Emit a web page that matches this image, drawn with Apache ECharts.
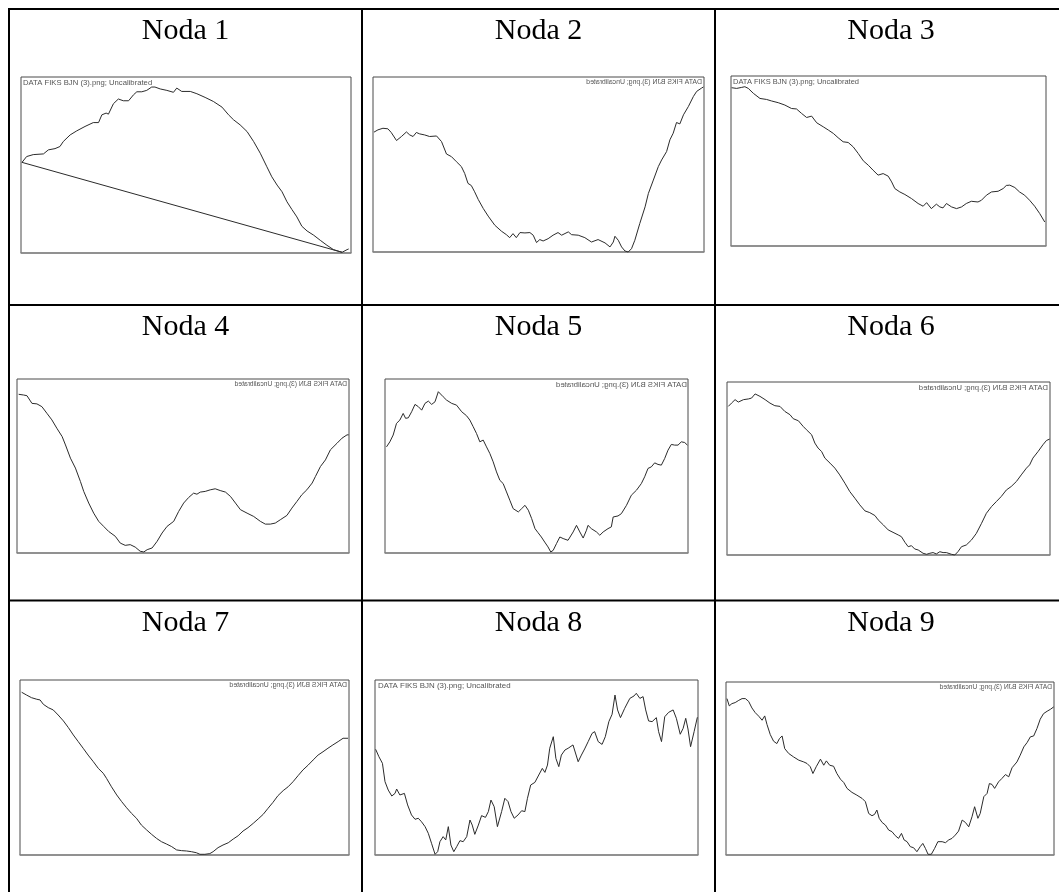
<!DOCTYPE html>
<html><head><meta charset="utf-8">
<script src="https://cdn.jsdelivr.net/npm/echarts@6/dist/echarts.min.js"></script>
<style>html,body{margin:0;padding:0;background:#fff}#c{width:1059px;height:892px}</style>
</head><body><div id="c"></div>
<script>
// ---------- data (x = % of plot width, y = % of plot height) ----------
const titles = ['Noda 1','Noda 2','Noda 3','Noda 4','Noda 5','Noda 6','Noda 7','Noda 8','Noda 9'];
const labelText = 'DATA FIKS BJN (3).png; Uncalibrated';

const noda1 = [[0.3,51.5],[1.7,54.8],[3.7,55.9],[6.8,56.3],[8.3,58.6],[10.3,59.3],[11.8,60.5],[12.8,63.3],[14.9,67.1],[16.9,69.4],[19.4,71.9],[21.9,74.1],[23.5,74.1],[24.5,78.5],[25.8,79.5],[26.5,78.9],[28.0,84.8],[29.5,87.5],[31.0,86.5],[32.6,86.5],[34.1,89.9],[35.1,91.6],[36.6,91.6],[38.1,92.4],[39.6,94.3],[40.6,94.3],[42.2,93.2],[44.2,92.4],[46.2,91.3],[47.2,93.7],[48.7,91.8],[51.3,91.8],[53.3,90.5],[55.8,88.4],[58.3,86.1],[60.9,82.9],[62.9,78.5],[64.4,75.7],[66.4,72.8],[68.5,69.0],[70.5,63.3],[72.5,56.7],[74.5,49.0],[76.0,43.3],[77.6,38.6],[79.1,34.8],[80.6,29.1],[82.1,24.7],[83.6,20.5],[85.1,15.2],[86.7,12.5],[88.7,10.1],[90.7,7.2],[92.7,4.4],[94.7,1.9],[97.3,0.4],[98.8,1.9],[99.3,2.3]];
const noda1Chord = [[0.3,51.5],[97.3,0.4]];

const noda2 = [[0.3,68.5],[1.5,69.8],[3.0,70.7],[4.5,70.4],[5.5,68.3],[7.1,63.7],[8.6,66.0],[10.1,68.6],[11.1,66.9],[12.1,66.0],[13.1,68.3],[14.1,67.5],[15.6,66.9],[17.1,66.0],[19.2,66.3],[20.7,63.1],[22.2,56.0],[23.7,54.5],[25.2,51.6],[26.7,48.8],[27.7,44.9],[28.7,39.2],[29.7,38.0],[30.7,34.4],[31.8,30.0],[33.3,24.9],[34.8,20.5],[36.8,15.3],[38.8,11.9],[40.3,9.9],[41.3,8.2],[42.3,10.5],[43.3,8.2],[44.4,11.1],[45.9,10.9],[47.4,11.1],[48.4,9.6],[49.4,5.4],[50.4,7.1],[51.4,6.3],[52.9,7.6],[54.4,9.6],[55.9,11.1],[57.0,9.6],[59.0,11.5],[60.0,9.9],[62.0,9.6],[64.0,8.2],[66.0,5.7],[68.0,7.1],[70.1,5.2],[71.6,2.9],[72.6,5.7],[73.1,9.0],[74.1,6.7],[75.1,2.9],[76.1,0.6],[77.1,0.0],[78.1,1.9],[79.1,6.7],[80.6,16.3],[82.2,25.8],[83.2,33.5],[84.7,41.1],[86.2,48.8],[87.2,52.6],[88.7,57.4],[89.7,64.1],[90.7,67.9],[91.7,74.0],[92.7,73.2],[93.8,78.4],[95.3,83.2],[96.8,88.9],[97.8,91.8],[99.3,93.7],[99.8,94.3]];

const noda3 = [[0.2,93.1],[1.8,92.7],[3.4,93.3],[4.4,93.7],[5.5,92.7],[7.1,89.8],[9.2,86.8],[11.3,86.2],[12.9,85.3],[15.0,84.3],[17.1,82.9],[19.2,80.9],[20.8,80.6],[22.4,78.0],[24.0,75.6],[25.6,76.4],[27.2,72.5],[29.3,70.1],[30.9,68.2],[32.5,66.2],[34.0,63.7],[35.6,61.3],[37.2,60.9],[38.8,58.3],[40.4,54.4],[42.0,50.1],[43.6,47.5],[45.1,44.6],[46.7,41.7],[48.3,42.6],[49.9,41.1],[51.0,37.7],[52.0,33.8],[53.6,31.8],[55.2,30.3],[57.3,27.9],[59.4,25.0],[61.0,23.4],[62.1,25.5],[63.6,22.0],[65.2,24.6],[66.3,23.0],[67.3,22.4],[68.4,25.0],[70.0,23.0],[71.6,22.0],[73.2,23.0],[74.7,25.0],[76.3,26.3],[78.4,25.9],[79.5,26.9],[81.1,29.9],[82.7,31.8],[84.8,32.2],[86.4,33.8],[87.4,35.6],[88.5,35.8],[90.1,34.4],[91.6,31.8],[93.2,29.9],[94.8,26.9],[96.4,23.4],[98.0,19.1],[99.6,14.1]];

const noda4 = [[0.5,91.2],[2.0,90.8],[3.0,90.4],[4.5,86.0],[6.0,85.7],[7.5,84.1],[9.0,80.3],[10.5,76.5],[12.0,71.7],[13.6,66.9],[14.6,62.1],[16.1,54.5],[17.6,48.8],[19.1,41.1],[20.1,35.4],[21.6,28.7],[23.1,22.9],[24.6,18.2],[26.1,15.3],[27.6,12.4],[29.6,9.6],[31.1,5.7],[32.6,4.4],[34.1,4.8],[35.6,3.4],[37.1,1.0],[38.2,0.6],[39.2,1.9],[40.7,2.9],[42.2,6.7],[43.7,11.5],[45.2,15.3],[47.2,18.2],[48.7,23.9],[50.2,28.7],[51.7,31.9],[53.2,34.4],[54.2,33.8],[55.2,35.0],[56.7,35.4],[58.2,36.3],[59.7,36.9],[61.2,35.9],[62.8,35.0],[64.3,32.5],[65.8,28.7],[67.3,24.9],[69.3,22.9],[71.3,21.0],[73.3,18.2],[74.8,16.6],[76.3,16.6],[77.8,17.2],[79.3,19.1],[81.3,21.6],[82.8,25.8],[84.3,29.6],[85.8,33.5],[87.3,36.3],[88.9,40.2],[89.9,44.0],[91.4,49.7],[92.9,53.5],[94.4,59.3],[96.4,63.1],[97.9,66.0],[99.4,67.9],[99.9,67.9]];

const noda5 = [[0.5,61.0],[1.6,63.9],[2.7,67.8],[3.8,74.5],[4.9,76.4],[6.0,80.2],[6.8,77.4],[7.7,77.7],[8.8,81.2],[9.9,85.4],[11.0,84.1],[12.1,82.1],[13.2,86.0],[14.3,87.3],[15.4,85.4],[16.5,86.9],[17.6,92.7],[18.1,93.7],[19.2,89.8],[20.3,87.9],[22.0,86.0],[23.6,85.0],[25.3,81.2],[26.9,78.9],[28.0,76.4],[29.1,72.6],[30.2,68.7],[31.3,63.9],[32.4,64.9],[33.5,61.0],[34.6,57.2],[35.7,52.4],[36.8,46.6],[37.9,41.8],[39.0,39.9],[40.1,35.1],[41.2,30.3],[42.3,25.5],[44.0,23.6],[45.1,25.5],[46.2,27.4],[47.3,24.6],[48.4,19.8],[49.5,14.0],[50.5,11.7],[51.6,9.2],[52.7,6.3],[53.8,3.5],[54.7,0.6],[55.5,1.5],[56.6,5.4],[57.7,9.2],[58.8,8.3],[60.4,7.3],[62.1,12.1],[63.2,15.9],[64.3,12.1],[65.4,8.6],[66.5,13.1],[67.0,15.9],[68.1,14.0],[69.8,12.1],[70.9,10.2],[72.0,12.1],[73.6,14.0],[74.7,15.0],[75.3,20.7],[76.9,21.3],[78.0,22.6],[79.7,27.4],[81.3,33.2],[83.0,36.1],[84.6,39.9],[85.7,43.8],[86.8,48.6],[87.9,49.5],[89.0,51.8],[90.1,50.9],[91.2,50.5],[92.3,54.3],[93.4,59.1],[94.5,62.4],[95.6,62.0],[96.7,62.0],[97.8,63.9],[98.9,63.5],[99.8,62.0]];

const noda6 = [[0.4,85.9],[1.4,87.8],[2.5,89.8],[3.5,88.4],[5.1,89.8],[6.6,90.2],[7.6,90.7],[8.7,93.1],[9.2,93.2],[10.2,91.7],[11.8,89.8],[13.3,87.8],[14.8,86.3],[16.4,85.9],[17.9,83.0],[19.5,81.1],[20.5,78.8],[22.1,77.6],[23.6,74.3],[24.6,72.4],[26.2,69.5],[27.2,64.7],[28.2,61.8],[29.3,59.8],[30.3,56.0],[31.9,53.1],[33.4,50.2],[34.9,46.3],[36.5,41.5],[38.0,36.7],[39.6,32.8],[41.1,29.0],[42.7,25.5],[44.2,24.5],[45.8,22.8],[46.8,20.3],[48.4,17.4],[49.9,14.5],[51.4,13.1],[53.0,11.6],[54.0,10.6],[55.1,7.3],[56.1,4.8],[57.1,5.4],[58.1,3.5],[59.2,2.9],[60.7,1.0],[61.8,0.4],[62.8,1.0],[63.8,1.4],[64.8,0.6],[65.9,1.9],[66.9,1.4],[67.9,1.4],[69.5,0.4],[70.5,0.0],[71.5,1.9],[72.6,4.8],[74.1,5.8],[75.7,8.7],[77.2,12.5],[78.8,18.3],[80.3,24.1],[81.9,28.0],[83.4,30.9],[84.9,33.8],[86.5,37.6],[88.0,39.6],[89.6,42.5],[91.1,46.3],[92.7,50.2],[93.7,52.1],[94.7,56.0],[96.3,59.8],[97.8,63.7],[98.9,66.2],[99.9,67.0]];

const noda7 = [[0.5,93.0],[2.0,91.4],[3.5,89.9],[5.1,89.0],[6.1,88.6],[7.1,86.1],[8.6,84.2],[10.1,82.9],[11.6,80.0],[13.2,76.6],[14.7,72.8],[16.2,68.6],[17.7,64.8],[19.2,61.0],[20.7,57.1],[22.3,53.3],[23.8,49.5],[25.3,46.7],[26.3,43.8],[27.8,39.0],[29.4,34.3],[30.9,30.5],[32.4,27.0],[33.9,23.8],[35.4,21.0],[36.9,17.1],[38.5,14.3],[40.0,11.8],[41.5,9.5],[43.0,7.6],[44.5,6.3],[46.1,4.8],[47.6,2.9],[49.1,2.5],[50.6,2.3],[52.1,1.9],[53.6,1.3],[54.7,0.4],[56.2,0.4],[57.7,0.8],[58.7,1.9],[60.2,4.2],[61.7,5.7],[63.3,7.0],[64.8,9.1],[66.3,11.0],[67.8,13.7],[69.3,15.6],[70.9,18.1],[72.4,20.6],[73.9,23.2],[75.4,26.7],[76.9,30.1],[78.4,33.9],[80.0,36.8],[81.5,39.0],[83.0,41.9],[84.5,45.3],[86.0,48.6],[87.6,51.4],[89.1,54.3],[90.6,57.1],[92.1,59.0],[93.6,61.0],[95.1,62.9],[96.7,64.8],[98.2,66.7],[99.7,66.7]];

const noda8 = [[0.2,60.4],[1.2,56.2],[2.3,52.4],[3.1,41.9],[4.1,37.1],[5.2,33.7],[6.2,35.2],[6.7,37.7],[7.7,34.3],[9.1,35.2],[10.1,28.6],[11.3,22.9],[12.4,20.4],[13.4,21.0],[14.4,19.0],[15.5,16.2],[16.5,12.4],[17.5,6.7],[18.6,0.4],[19.4,1.9],[20.1,7.6],[21.1,10.5],[21.9,8.6],[22.7,16.2],[23.5,5.7],[24.4,1.9],[25.3,4.8],[26.3,8.2],[27.3,7.6],[28.4,10.5],[29.4,20.0],[30.1,17.1],[30.9,11.8],[32.0,17.1],[33.0,22.5],[34.2,21.5],[35.1,24.8],[35.9,31.4],[36.9,27.6],[37.9,16.2],[39.2,24.8],[40.2,32.4],[41.2,30.5],[42.1,24.8],[43.1,21.0],[44.3,22.9],[45.4,25.3],[46.4,24.8],[47.2,32.4],[48.2,40.0],[49.5,41.5],[50.7,45.7],[51.8,49.5],[52.6,47.2],[53.4,51.4],[54.1,61.0],[55.2,67.6],[56.0,55.2],[56.9,50.5],[57.7,57.1],[58.8,60.0],[59.8,61.0],[61.3,62.9],[62.9,53.3],[63.9,57.1],[64.9,60.6],[66.0,64.8],[67.2,69.5],[68.0,70.5],[69.1,64.8],[70.3,63.2],[71.3,67.6],[72.4,76.2],[73.4,80.4],[74.3,91.4],[75.1,82.9],[76.0,78.5],[77.3,83.8],[78.9,89.5],[80.2,90.9],[80.9,92.4],[82.0,89.5],[83.0,90.5],[83.8,82.9],[84.7,76.6],[85.8,76.2],[87.1,78.5],[87.8,70.5],[88.7,64.8],[89.7,79.0],[90.9,81.5],[92.3,82.9],[93.3,78.1],[94.5,69.0],[95.4,72.4],[96.2,78.1],[96.9,72.0],[97.7,61.9],[98.8,70.5],[99.8,78.7]];

const noda9 = [[0.3,90.4],[1.0,86.2],[1.8,87.5],[2.8,88.1],[3.9,89.4],[4.9,90.4],[5.9,90.4],[6.9,88.8],[7.9,85.0],[8.9,82.3],[10.0,80.2],[11.0,77.9],[11.8,80.4],[12.5,75.4],[13.5,69.6],[14.5,65.8],[15.5,64.4],[16.3,67.3],[17.1,68.8],[17.9,61.5],[19.1,58.7],[20.6,56.7],[22.2,54.8],[23.7,53.8],[24.7,52.9],[25.7,51.0],[26.5,47.1],[27.5,51.0],[28.8,55.4],[29.8,51.9],[30.6,54.4],[31.6,51.9],[32.8,51.3],[33.8,47.1],[34.9,43.8],[35.9,41.9],[36.9,38.5],[38.4,36.2],[39.9,34.6],[41.5,32.7],[42.5,30.8],[43.5,24.0],[44.5,22.7],[45.3,23.5],[46.0,26.0],[46.7,21.2],[47.6,18.8],[48.6,17.3],[49.6,14.4],[50.6,13.5],[51.6,11.2],[52.6,9.6],[53.5,12.5],[54.3,8.7],[55.2,7.7],[56.2,4.8],[57.2,4.2],[58.2,1.9],[59.2,4.8],[60.0,6.7],[60.8,3.8],[61.6,0.4],[62.6,0.4],[63.6,3.8],[64.6,7.7],[65.9,7.7],[66.9,7.1],[67.9,8.7],[68.9,9.6],[69.9,11.5],[70.9,13.8],[72.0,20.2],[73.0,18.8],[74.0,16.3],[75.0,22.1],[75.8,27.9],[76.8,21.2],[77.5,24.0],[78.6,33.7],[79.6,35.6],[80.3,41.3],[81.1,40.8],[81.9,38.5],[83.1,42.3],[84.1,44.2],[85.2,46.5],[86.2,45.2],[87.2,50.4],[88.7,53.8],[89.7,57.7],[90.8,62.5],[91.8,65.0],[92.8,68.3],[93.8,68.8],[94.8,73.1],[95.8,78.5],[96.8,81.7],[97.9,83.1],[98.9,84.2],[99.9,85.6]];

const nodaData = [noda1, noda2, noda3, noda4, noda5, noda6, noda7, noda8, noda9];

// ---------- layout ----------
const frames = [
  {left:21,  top:77,  width:330, height:176},
  {left:373, top:77,  width:331, height:175},
  {left:731, top:76,  width:315, height:170},
  {left:17,  top:379, width:332, height:174},
  {left:385, top:379, width:303, height:174},
  {left:727, top:382, width:323, height:173},
  {left:20,  top:680, width:329, height:175},
  {left:375, top:680, width:323, height:175},
  {left:726, top:682, width:328, height:173}
];
const labels = [
  {mirror:false, x:23,   y:79,  fs:7.7},
  {mirror:true,  x:702,  y:79,  fs:6.9},
  {mirror:false, x:733,  y:78,  fs:7.5},
  {mirror:true,  x:347,  y:381, fs:6.7},
  {mirror:true,  x:687,  y:381, fs:7.8},
  {mirror:true,  x:1048, y:384, fs:7.7},
  {mirror:true,  x:347,  y:682, fs:7.0},
  {mirror:false, x:378,  y:682, fs:7.9},
  {mirror:true,  x:1052, y:684, fs:6.7}
];
const titlePos = [[185.5,30.7],[538.5,30.7],[891,30.7],[185.5,326.7],[538.5,326.7],[891,326.7],[185.5,623.5],[538.5,623.5],[891,623.5]];

const chart = echarts.init(document.getElementById('c'), null, {renderer:'canvas'});

const grid = [], xAxis = [], yAxis = [], series = [];
frames.forEach((f, i) => {
  grid.push({left:f.left, top:f.top, width:f.width, height:f.height, show:true, borderColor:'#4a4a4a', borderWidth:1, backgroundColor:'#fff', containLabel:false});
  xAxis.push({type:'value', gridIndex:i, min:0, max:100, show:true,
    axisLine:{show:true, onZero:false, lineStyle:{color:'#8a8a8a', width:1.5}},
    axisTick:{show:false}, axisLabel:{show:false}, splitLine:{show:false}});
  yAxis.push({type:'value', gridIndex:i, min:0, max:100, show:false, splitLine:{show:false}});
  series.push({type:'line', xAxisIndex:i, yAxisIndex:i, data:nodaData[i], showSymbol:false, symbol:'none',
    lineStyle:{color:'#2b2b2b', width:1}, silent:true, animation:false, clip:false, z:3});
});
series.push({type:'line', xAxisIndex:0, yAxisIndex:0, data:noda1Chord, showSymbol:false, symbol:'none',
  lineStyle:{color:'#2b2b2b', width:1}, silent:true, animation:false, clip:false, z:3});

const graphics = [];
const B = 2;
// table rules
[[8,9,1059,9],[8,305,1059,305],[8,600.5,1059,600.5]].forEach(l => graphics.push({type:'line', shape:{x1:l[0],y1:l[1],x2:l[2],y2:l[3]}, style:{stroke:'#000', lineWidth:B}, z:10}));
[[9,8,9,892],[362,8,362,892],[715,8,715,892]].forEach(l => graphics.push({type:'line', shape:{x1:l[0],y1:l[1],x2:l[2],y2:l[3]}, style:{stroke:'#000', lineWidth:B}, z:10}));
// titles
titles.forEach((t, i) => graphics.push({type:'text', x:titlePos[i][0], y:titlePos[i][1], z:10,
  style:{text:t, fill:'#000', fontSize:30, fontFamily:'Liberation Serif, Times New Roman, serif', align:'center', verticalAlign:'middle'}}));
// plot labels (some are mirrored in the source images)
labels.forEach(l => graphics.push({type:'text', x:l.x, y:l.y, scaleX:l.mirror ? -1 : 1, z:10,
  style:{text:labelText, fill:'#555', fontSize:l.fs, fontFamily:'Liberation Sans, Arial, sans-serif', align:'left', verticalAlign:'top'}}));

chart.setOption({animation:false, backgroundColor:'#fff', grid, xAxis, yAxis, series, graphic:{elements:graphics}});
</script></body></html>
